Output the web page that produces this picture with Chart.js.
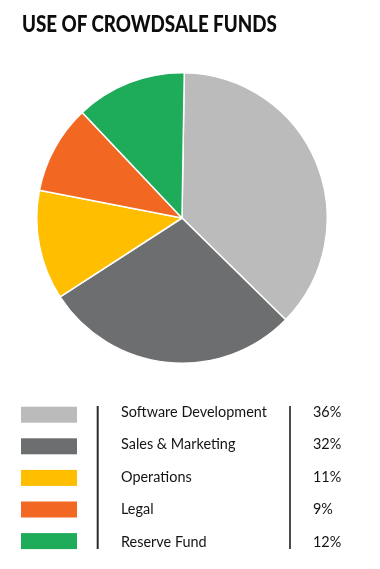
<!DOCTYPE html>
<html>
<head>
<meta charset="utf-8">
<script src="https://cdn.jsdelivr.net/npm/chart.js@4.4.1/dist/chart.umd.min.js"></script>
<style>
  html, body { margin: 0; padding: 0; background: #ffffff; }
  body { width: 380px; height: 569px; position: relative; overflow: hidden; }
  #pieWrap { position: absolute; left: 35.5px; top: 72px; width: 292px; height: 292px; }
  #overlay { position: absolute; left: 0; top: 0; }
</style>
</head>
<body>
<div id="pieWrap"><canvas id="pie"></canvas></div>
<svg id="overlay" width="380" height="569" xmlns="http://www.w3.org/2000/svg"></svg>
<script>
// ---- data ----
const title = "USE OF CROWDSALE FUNDS";
const categories = ["Software Development", "Sales & Marketing", "Operations", "Legal", "Reserve Fund"];
const sliceValues = [37.1, 28.5, 12.2, 9.9, 12.3];        // slice sizes as drawn in the pie
const percentLabels = ["36%", "32%", "11%", "9%", "12%"];  // percentages printed in the legend
const colors = ["#BBBBBB", "#6D6E70", "#FFBE00", "#F26722", "#1EAB5A"];

// ---- pie ----
new Chart(document.getElementById('pie'), {
  type: 'pie',
  data: {
    labels: categories,
    datasets: [{
      data: sliceValues,
      backgroundColor: colors,
      borderColor: '#ffffff',
      borderWidth: 1.5,
      hoverOffset: 0,
      offset: 0
    }]
  },
  options: {
    responsive: true,
    maintainAspectRatio: false,
    animation: false,
    rotation: 0.9,
    layout: { padding: 0 },
    plugins: { legend: { display: false }, tooltip: { enabled: false }, title: { display: false } },
    events: []
  }
});

// ---- title + legend (SVG text) ----
const NS = "http://www.w3.org/2000/svg";
const svg = document.getElementById('overlay');
function el(name, attrs, text) {
  const e = document.createElementNS(NS, name);
  for (const k in attrs) e.setAttribute(k, attrs[k]);
  if (text !== undefined) e.textContent = text;
  svg.appendChild(e);
  return e;
}

const t = el('text', { x: 22, y: 31.7, 'font-family': 'Lato', 'font-weight': 900, 'font-size': 23.5, fill: '#0d0d0d' }, title);
// fit to the reference's title width
const tw = t.getComputedTextLength();
const titleScale = 255 / tw;
t.setAttribute('transform', `translate(22 0) scale(${titleScale} 1) translate(-22 0)`);

// separator lines
el('rect', { x: 96.7, y: 406, width: 2, height: 143, fill: '#2b2b2b' });
el('rect', { x: 289, y: 406, width: 2, height: 143, fill: '#4a4a4a' });

const labelFont = { 'font-family': 'Lato', 'font-size': 16, fill: '#141414' };
let labelScale = 1;
categories.forEach((name, i) => {
  el('rect', { x: 21, y: 406.7 + i * 31.6, width: 56, height: 16, fill: colors[i] });
  const lt = el('text', Object.assign({ x: 121, y: 416.7 + i * 32.5 }, labelFont), name);
  if (i === 0) labelScale = 146 / lt.getComputedTextLength();
  lt.setAttribute('transform', `translate(121 0) scale(${labelScale} 1) translate(-121 0)`);
  const pt = el('text', Object.assign({ x: 313, y: 416.7 + i * 32.5 }, labelFont), percentLabels[i]);
  pt.setAttribute('transform', `translate(313 0) scale(${labelScale} 1) translate(-313 0)`);
});
</script>
</body>
</html>
